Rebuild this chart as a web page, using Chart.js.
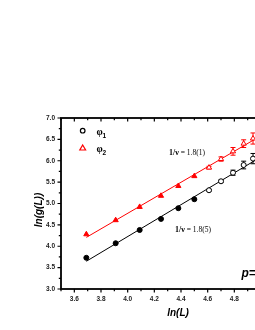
<!DOCTYPE html>
<html>
<head>
<meta charset="utf-8">
<script src="https://cdn.jsdelivr.net/npm/chart.js@4/dist/chart.umd.min.js"></script>
<style>
  html, body { margin: 0; padding: 0; background: #fff; overflow: hidden; }
  #wrap { width: 300px; height: 330px; }
</style>
</head>
<body>
<div id="wrap"><canvas id="chart" width="300" height="330"></canvas></div>
<script>
// ── Data ────────────────────────────────────────────────────────
const lnL    = [3.69, 3.91, 4.09, 4.25, 4.38, 4.50, 4.61, 4.70, 4.79, 4.87, 4.94];
const phi1   = [3.73, 4.07, 4.38, 4.64, 4.89, 5.10, 5.31, 5.52, 5.72, 5.90, 6.05];
const phi2   = [4.28, 4.61, 4.92, 5.18, 5.41, 5.64, 5.84, 6.04, 6.22, 6.40, 6.52];
const err1   = [0, 0, 0, 0, 0, 0, 0.02, 0.03, 0.06, 0.09, 0.12];
const err2   = [0, 0, 0, 0, 0, 0, 0.03, 0.05, 0.09, 0.09, 0.13];
const nFilled = 6;   // first points drawn with solid symbols
const xTicks = [3.6, 3.8, 4.0, 4.2, 4.4, 4.6, 4.8, 5.0];
const yTicks = [3.0, 3.5, 4.0, 4.5, 5.0, 5.5, 6.0, 6.5, 7.0];
const xMin = 3.5, xMax = 5.0, yMin = 3.0, yMax = 7.0;
const fitLabels = ['1/ν = 1.8(5)', '1/ν = 1.8(1)'];

// ── Least squares fit ───────────────────────────────────────────
function linFit(xs, ys) {
  const n = xs.length;
  const mx = xs.reduce((a, b) => a + b, 0) / n;
  const my = ys.reduce((a, b) => a + b, 0) / n;
  let sxy = 0, sxx = 0;
  xs.forEach((x, i) => { sxy += (x - mx) * (ys[i] - my); sxx += (x - mx) * (x - mx); });
  const b = sxy / sxx;
  return { a: my - b * mx, b };
}
function fitLine(ys) {
  const f = linFit(lnL, ys);
  return [lnL[0], xMax].map(x => ({ x, y: f.a + f.b * x }));
}
const pts = ys => lnL.map((x, i) => ({ x, y: ys[i] }));

// ── Frame + ticks ───────────────────────────────────────────────
const framePlugin = {
  id: 'frame',
  afterDraw(chart) {
    const { ctx, chartArea: ca } = chart;
    const xs = chart.scales.x, ys = chart.scales.y;
    ctx.save();
    ctx.strokeStyle = '#000';
    ctx.lineWidth = 1.8;
    ctx.strokeRect(ca.left, ca.top, ca.right - ca.left, ca.bottom - ca.top);
    ctx.lineWidth = 1.2;
    ctx.beginPath();
    xTicks.forEach(v => {
      const p = xs.getPixelForValue(v);
      ctx.moveTo(p, ca.bottom); ctx.lineTo(p, ca.bottom + 3.5);
      ctx.moveTo(p, ca.top); ctx.lineTo(p, ca.top + 3.5);
      const m = xs.getPixelForValue(v - 0.1);
      ctx.moveTo(m, ca.bottom); ctx.lineTo(m, ca.bottom + 2.2);
      ctx.moveTo(m, ca.top); ctx.lineTo(m, ca.top + 2.2);
    });
    yTicks.forEach((v, i) => {
      const p = ys.getPixelForValue(v);
      ctx.moveTo(ca.left, p); ctx.lineTo(ca.left - 3.5, p);
      if (i > 0) {
        const m = ys.getPixelForValue(v - 0.25);
        ctx.moveTo(ca.left, m); ctx.lineTo(ca.left - 2.2, m);
      }
    });
    ctx.stroke();
    ctx.restore();
  }
};

// ── Error bars ──────────────────────────────────────────────────
const errorPlugin = {
  id: 'errors',
  beforeDatasetsDraw(chart) {
    const { ctx, chartArea: ca } = chart;
    const xs = chart.scales.x, ys = chart.scales.y;
    ctx.save();
    ctx.beginPath();
    ctx.rect(ca.left, ca.top, ca.right - ca.left, ca.bottom - ca.top);
    ctx.clip();
    [[phi1, err1, '#000'], [phi2, err2, '#ff0000']].forEach(([vals, errs, col]) => {
      ctx.strokeStyle = col;
      ctx.lineWidth = 1;
      ctx.beginPath();
      lnL.forEach((x, i) => {
        if (!errs[i]) return;
        const px = xs.getPixelForValue(x);
        const y1 = ys.getPixelForValue(vals[i] + errs[i]);
        const y2 = ys.getPixelForValue(vals[i] - errs[i]);
        ctx.moveTo(px, y1); ctx.lineTo(px, y2);
        ctx.moveTo(px - 2.5, y1); ctx.lineTo(px + 2.5, y1);
        ctx.moveTo(px - 2.5, y2); ctx.lineTo(px + 2.5, y2);
      });
      ctx.stroke();
    });
    ctx.restore();
  }
};

// ── Legend, labels, annotations ─────────────────────────────────
const textPlugin = {
  id: 'texts',
  afterDraw(chart) {
    const { ctx } = chart;
    ctx.save();
    // legend symbols
    ctx.lineWidth = 1.2;
    ctx.strokeStyle = '#000';
    ctx.fillStyle = '#fff';
    ctx.beginPath(); ctx.arc(82.7, 130.7, 2.3, 0, Math.PI * 2); ctx.fill(); ctx.stroke();
    ctx.strokeStyle = '#ff0000';
    ctx.beginPath();
    ctx.moveTo(82.7, 145); ctx.lineTo(85.6, 150); ctx.lineTo(79.8, 150); ctx.closePath();
    ctx.fill(); ctx.stroke();

    ctx.fillStyle = '#000';
    ctx.textBaseline = 'alphabetic';
    ctx.textAlign = 'left';
    ctx.font = 'bold 10px "Liberation Serif"';
    ctx.fillText('φ', 96.5, 134.5);
    ctx.fillText('φ', 96.5, 151.5);
    ctx.font = 'bold 6.5px "Liberation Sans"';
    ctx.fillText('1', 102.5, 137.5);
    ctx.fillText('2', 102.5, 154.5);

    // fit annotations
    const note = (txt, x, y) => {
      const [head, tail] = [txt.slice(0, 3), txt.slice(3)];
      ctx.font = 'bold 8px "Liberation Serif"';
      ctx.fillText(head, x, y);
      const w = ctx.measureText(head).width;
      ctx.font = '7.5px "Liberation Serif"';
      ctx.fillText(tail, x + w, y);
    };
    note(fitLabels[1], 169, 155);
    note(fitLabels[0], 175, 232);

    // axis titles
    ctx.font = 'bold italic 10px "Liberation Sans"';
    ctx.textAlign = 'center';
    ctx.textBaseline = 'middle';
    ctx.fillText('ln(L)', 178, 313);
    ctx.save();
    ctx.translate(39, 210);
    ctx.rotate(-Math.PI / 2);
    ctx.fillText('ln(g(L))', 0, 0);
    ctx.restore();

    ctx.font = 'bold italic 12px "Liberation Sans"';
    ctx.textAlign = 'left';
    ctx.textBaseline = 'alphabetic';
    ctx.fillText('p=', 241.5, 277);
    ctx.restore();
  }
};

// ── Chart ───────────────────────────────────────────────────────
const tickFont = { family: '"Liberation Sans", Arial', size: 6.5, weight: 'bold' };

new Chart(document.getElementById('chart'), {
  type: 'scatter',
  data: {
    datasets: [
      {
        label: 'phi1',
        data: pts(phi1),
        pointStyle: 'circle',
        pointRadius: 2.5,
        pointBorderWidth: 1,
        pointBorderColor: '#000',
        pointBackgroundColor: lnL.map((_, i) => i < nFilled ? '#000' : '#fff'),
      },
      {
        label: 'phi2',
        data: pts(phi2),
        pointStyle: 'triangle',
        pointRadius: 3,
        pointBorderWidth: 1,
        pointBorderColor: '#ff0000',
        pointBackgroundColor: lnL.map((_, i) => i < nFilled ? '#ff0000' : '#fff'),
      },
      {
        label: 'fit1',
        data: fitLine(phi1),
        showLine: true,
        pointRadius: 0,
        borderColor: '#000',
        borderWidth: 1,
      },
      {
        label: 'fit2',
        data: fitLine(phi2),
        showLine: true,
        pointRadius: 0,
        borderColor: '#ff0000',
        borderWidth: 1,
      },
    ]
  },
  options: {
    responsive: false,
    animation: false,
    layout: { padding: { top: 118, right: 39, left: 0, bottom: 0 } },
    plugins: { legend: { display: false }, tooltip: { enabled: false } },
    scales: {
      x: {
        type: 'linear',
        min: xMin, max: xMax,
        afterBuildTicks: s => { s.ticks = xTicks.map(v => ({ value: v })); },
        afterFit: s => { s.height = 41; },
        grid: { display: false, drawTicks: false },
        border: { display: false },
        ticks: { color: '#222', font: tickFont, padding: 6, maxRotation: 0,
                 callback: v => v.toFixed(1) }
      },
      y: {
        type: 'linear',
        min: yMin, max: yMax,
        afterBuildTicks: s => { s.ticks = yTicks.map(v => ({ value: v })); },
        afterFit: s => { s.width = 61; },
        grid: { display: false, drawTicks: false },
        border: { display: false },
        ticks: { color: '#222', font: tickFont, padding: 6,
                 callback: v => v.toFixed(1) }
      }
    }
  },
  plugins: [errorPlugin, framePlugin, textPlugin]
});
</script>
</body>
</html>
